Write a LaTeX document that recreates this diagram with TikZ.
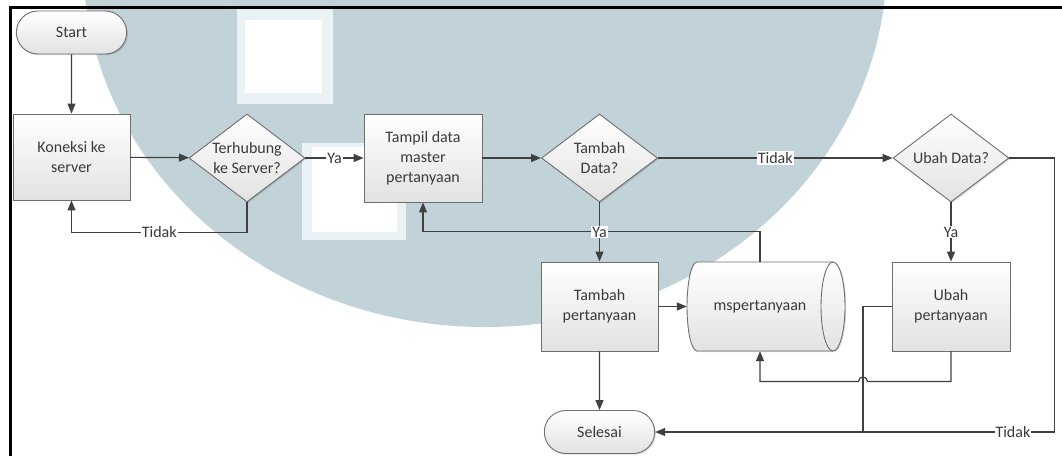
\documentclass[tikz,border=0pt]{standalone}
\usepackage{fontspec}
\setmainfont{Carlito}
\usetikzlibrary{shapes.geometric,shapes.misc,arrows.meta,shadows}

\definecolor{emblem}{RGB}{193,211,217}
\definecolor{emblemlight}{RGB}{234,242,245}
\definecolor{ink}{RGB}{58,58,58}
\definecolor{wirecol}{RGB}{64,64,64}
\definecolor{rim}{RGB}{110,110,110}
\definecolor{fillbot}{RGB}{226,226,226}

\tikzset{
  every node/.style={font=\fontsize{16}{20}\selectfont, text=ink},
  boxlook/.style={draw=rim, line width=0.9pt, top color=white, bottom color=fillbot,
    drop shadow={shadow xshift=1.2pt, shadow yshift=-1.2pt, fill=black, opacity=0.15}},
  shapebase/.style={boxlook, align=center},
  process/.style={shapebase, rectangle, minimum width=117pt, minimum height=88pt, inner sep=2pt},
  terminal/.style={shapebase, rounded rectangle, minimum width=117pt, minimum height=43pt},
  decision/.style={shapebase, diamond, aspect=1.32, minimum width=116pt, minimum height=88pt, inner sep=-2pt},
  link/.style={draw=wirecol, line width=1.2pt},
  flow/.style={link, -{Triangle[length=10pt,width=8pt]}},
  lbl/.style={fill=white, inner sep=1pt, text=ink},
}

\begin{document}
\begin{tikzpicture}[x=1pt, y=-1pt]
\useasboundingbox (0,0) rectangle (1062,456);

% faint background emblem
\begin{scope}
  \clip (0,0) rectangle (1062,456);
  \fill[emblem] (485,-40) ellipse [x radius=402, y radius=367];
  \fill[emblemlight] (237,8) rectangle (333,104);
  \fill[white] (245,20) rectangle (322,93);
  \fill[emblemlight] (302,143) rectangle (406,240);
  \fill[white] (312,147) rectangle (397,232);
\end{scope}

% page frame
\draw[line width=2.6pt, black, line join=miter] (10.3,456) -- (10.3,7.3) -- (1062,7.3);

% nodes
\node[terminal] (start) at (71.5,32.5) {Start};
\node[process, minimum height=86pt] (kon) at (71.5,157) {Koneksi ke\\server};
\node[decision] (terh) at (247,158) {Terhubung\\ke Server?};
\node[process, minimum width=118pt] (tampil) at (423,158) {Tampil data\\master\\pertanyaan};
\node[decision] (tdata) at (599.5,158) {Tambah\\Data?};
\node[decision] (udata) at (951,158) {Ubah Data?};
\node[process, minimum height=89pt] (tper) at (599.5,306.5) {Tambah\\pertanyaan};
\node[process, minimum height=89pt, minimum width=118pt] (uper) at (951,306.5) {Ubah\\pertanyaan};
\node[terminal] (end) at (599.5,432) {Selesai};

% data store: horizontal drum, body from the left bulge to the centre of the end ellipse
\node[minimum width=146pt, minimum height=89pt, inner sep=0pt] (db) at (760,306.5) {};
\begin{scope}[shift={(db.center)}]
  \path[boxlook] (-63,-44.5) -- (73,-44.5)
    arc[start angle=90, end angle=-90, x radius=12pt, y radius=44.5pt]
    -- (-63,44.5)
    arc[start angle=270, end angle=90, x radius=10pt, y radius=44.5pt] -- cycle;
  \draw[draw=rim, line width=0.9pt] (73,-44.5)
    arc[start angle=90, end angle=270, x radius=12pt, y radius=44.5pt];
\end{scope}
\node at (db.center) {mspertanyaan};
\coordinate (join) at (863,432);

% connectors
\draw[flow] (start) -- (kon);
\draw[flow] (kon) -- (terh);
\draw[flow] (terh.south) -- ++(0,30) -| (kon.south) node[lbl, pos=0.25] {Tidak};
\draw[flow] (terh) -- (tampil) node[lbl, midway] {Ya};
\draw[flow] (tampil) -- (tdata);
\draw[flow] (db.north) -- ++(0,-30) -| (tampil.south);
\draw[flow] (tdata) -- (tper) node[lbl, midway] {Ya};
\draw[flow] (tdata) -- (udata) node[lbl, midway] {Tidak};
\draw[flow] (udata) -- (uper) node[lbl, midway] {Ya};
\draw[flow] (tper) -- (db);
\draw[flow] (tper) -- (end);
\draw[link] (uper.west) -| (join);
\draw[flow] (uper.south) -- ++(0,30) -- ++(-83.5,0)
  arc[start angle=0, end angle=180, radius=4.5pt] -| (db.south);
\draw[flow] (udata.east) -- ++(45,0) |- (end.east) node[lbl, pos=0.552] {Tidak};
\end{tikzpicture}
\end{document}
